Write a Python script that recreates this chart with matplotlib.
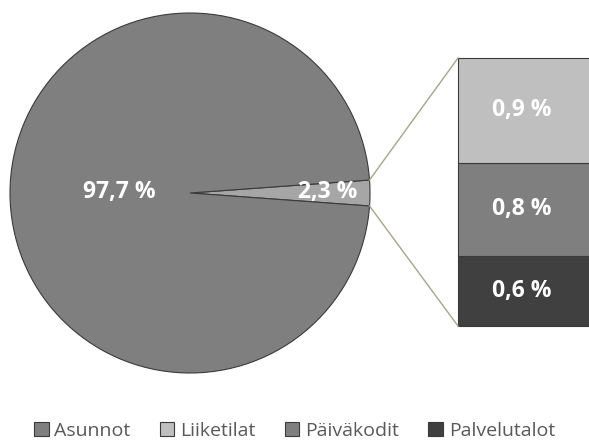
import matplotlib
matplotlib.use("Agg")
import matplotlib.pyplot as plt
import numpy as np

# Data
pie_labels = ["Muut", "Asunnot"]
pie_values = [2.3, 97.7]
pie_texts = ["2,3 %", "97,7 %"]
bar_labels = ["Palvelutalot", "Päiväkodit", "Liiketilat"]
bar_values = [0.6, 0.8, 0.9]
bar_texts = ["0,6 %", "0,8 %", "0,9 %"]
legend_order = ["Asunnot", "Liiketilat", "Päiväkodit", "Palvelutalot"]

pie_colors = ["#a6a6a6", "#7f7f7f"]
bar_colors = ["#404040", "#7f7f7f", "#bfbfbf"]
edge = "#3a3a3a"
conn = "#a8a38a"

plt.rcParams['font.family'] = ['Open Sans', 'DejaVu Sans']

fig = plt.figure(figsize=(5.89, 4.40), dpi=100)
ax = fig.add_axes([0, 0, 1, 1])

cx, cy, r = 190, 247, 180
half = pie_values[0] / sum(pie_values) * 360 / 2
wedges, _ = ax.pie(pie_values, colors=pie_colors, startangle=-half, counterclock=True,
                   center=(cx, cy), radius=r, frame=True,
                   wedgeprops=dict(edgecolor=edge, linewidth=0.8))
ax.set_xlim(0, 589)
ax.set_ylim(0, 440)
ax.set_aspect('equal')
ax.axis('off')

fs = 16.5
ax.text(cx + 0.765 * r, cy + 1, pie_texts[0], color="white", fontsize=fs,
        fontweight="bold", ha="center", va="center")
ax.text(cx - 0.39 * r, cy + 1, pie_texts[1], color="white", fontsize=fs,
        fontweight="bold", ha="center", va="center")

# Bar of pie
bx, bw = 458, 150
bottom0, total_h = 114, 268
scale = total_h / sum(bar_values)
bottoms = bottom0 + np.concatenate([[0], np.cumsum(bar_values)[:-1]]) * scale
heights = np.array(bar_values) * scale
bars = ax.bar([bx] * 3, heights, width=bw, bottom=bottoms, align='edge',
              color=bar_colors, edgecolor=edge, linewidth=0.8)
for b, h, t in zip(bottoms, heights, bar_texts):
    ax.text(bx + 64, b + h / 2, t, color="white", fontsize=fs,
            fontweight="bold", ha="center", va="center")

# Connector lines
a = np.deg2rad(half)
p_top = (cx + r * np.cos(a), cy + r * np.sin(a))
p_bot = (cx + r * np.cos(-a), cy + r * np.sin(-a))
ax.plot([p_top[0], bx], [p_top[1], bottom0 + total_h], color=conn, lw=1.0)
ax.plot([p_bot[0], bx], [p_bot[1], bottom0], color=conn, lw=1.0)

handle_map = {"Asunnot": wedges[1], "Liiketilat": bars[2],
              "Päiväkodit": bars[1], "Palvelutalot": bars[0]}
fig.legend([handle_map[k] for k in legend_order], legend_order, loc="lower center",
           bbox_to_anchor=(0.5, -0.04), ncol=4, frameon=False, fontsize=14,
           handlelength=0.75, handleheight=0.75, handletextpad=0.3, columnspacing=1.5,
           labelcolor="#595959")

fig.savefig("out.png", dpi=100)
